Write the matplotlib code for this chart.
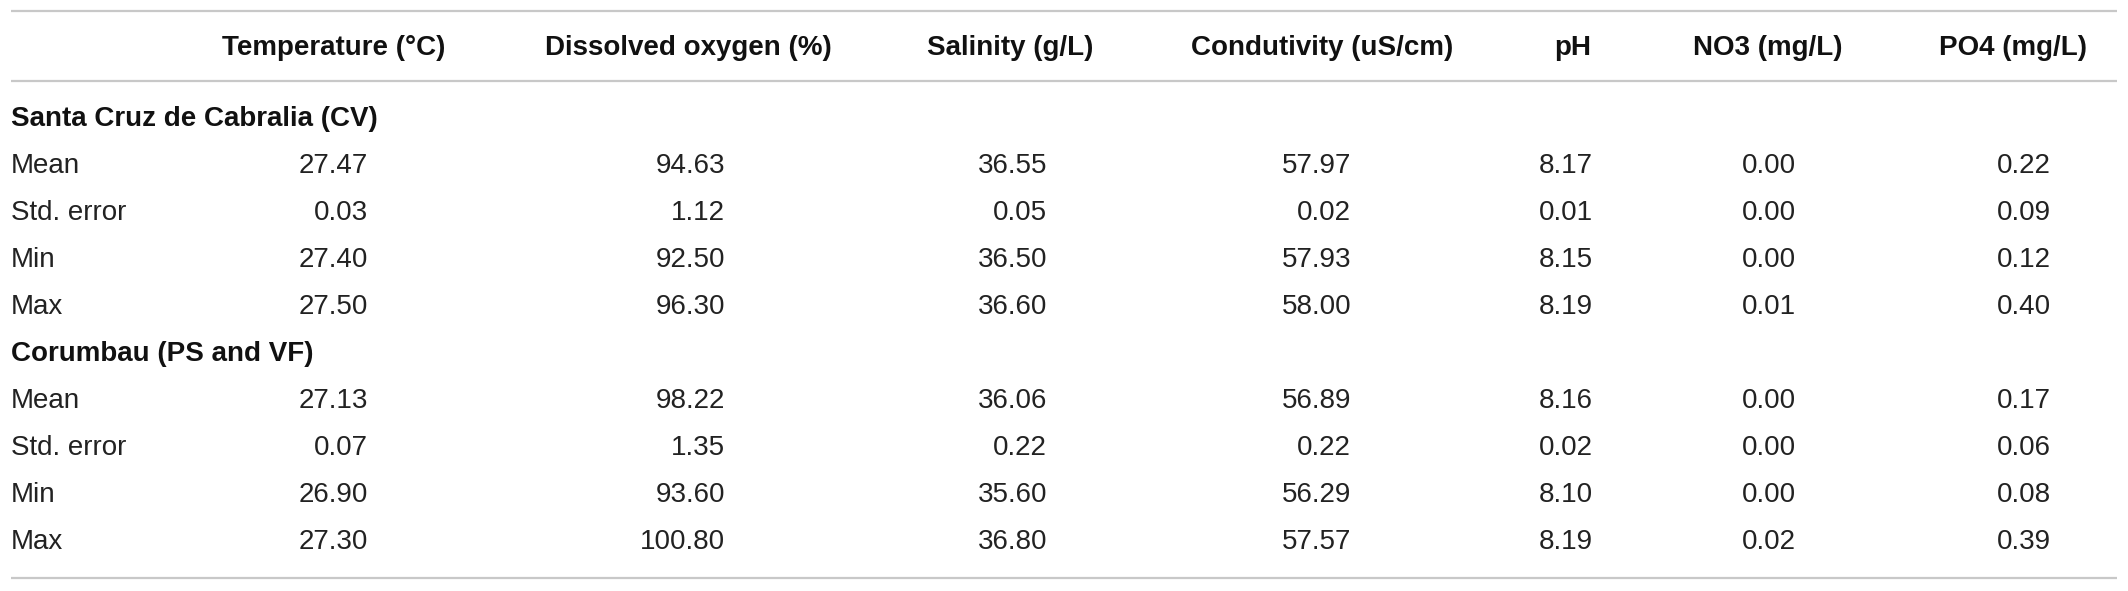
import matplotlib.pyplot as plt

# table content
columns = ['Temperature (°C)', 'Dissolved oxygen (%)', 'Salinity (g/L)',
           'Condutivity (uS/cm)', 'pH', 'NO3 (mg/L)', 'PO4 (mg/L)']
stats = ['Mean', 'Std. error', 'Min', 'Max']
sites = ['Santa Cruz de Cabralia (CV)', 'Corumbau (PS and VF)']

cabralia = [
    ['27.47', '94.63', '36.55', '57.97', '8.17', '0.00', '0.22'],
    ['0.03', '1.12', '0.05', '0.02', '0.01', '0.00', '0.09'],
    ['27.40', '92.50', '36.50', '57.93', '8.15', '0.00', '0.12'],
    ['27.50', '96.30', '36.60', '58.00', '8.19', '0.01', '0.40'],
]
corumbau = [
    ['27.13', '98.22', '36.06', '56.89', '8.16', '0.00', '0.17'],
    ['0.07', '1.35', '0.22', '0.22', '0.02', '0.00', '0.06'],
    ['26.90', '93.60', '35.60', '56.29', '8.10', '0.00', '0.08'],
    ['27.30', '100.80', '36.80', '57.57', '8.19', '0.02', '0.39'],
]

# layout (pixels)
W, H = 2128, 591
header_x = [334, 688, 1010, 1322, 1573, 1768, 2013]
value_x = [368, 725, 1047, 1351, 1593, 1796, 2051]
left_x = 11
header_y = 48
row_step = 47
first_row_y = 119
line_color = '#c8c8c8'
text_color = '#222222'
fs = 20

plt.rcParams['font.family'] = ['Liberation Sans', 'DejaVu Sans']

fig = plt.figure(figsize=(W / 100, H / 100), dpi=100)
ax = fig.add_axes([0, 0, 1, 1])
ax.set_xlim(0, W)
ax.set_ylim(H, 0)
ax.axis('off')

# rules
ax.hlines([11, 81, 578], 11, 2117, color=line_color, linewidth=1.6)

for hx, name in zip(header_x, columns):
    ax.text(hx, header_y, name, ha='center', va='center', fontsize=fs,
            fontweight='bold', color='#111111')

y = first_row_y
for site, block in zip(sites, [cabralia, corumbau]):
    ax.text(left_x, y, site, ha='left', va='center', fontsize=fs,
            fontweight='bold', color='#111111')
    y += row_step
    for stat, row in zip(stats, block):
        ax.text(left_x, y, stat, ha='left', va='center', fontsize=fs, color=text_color)
        for vx, val in zip(value_x, row):
            ax.text(vx, y, val, ha='right', va='center', fontsize=fs, color=text_color)
        y += row_step

fig.savefig('out.png', dpi=100, facecolor='white')
